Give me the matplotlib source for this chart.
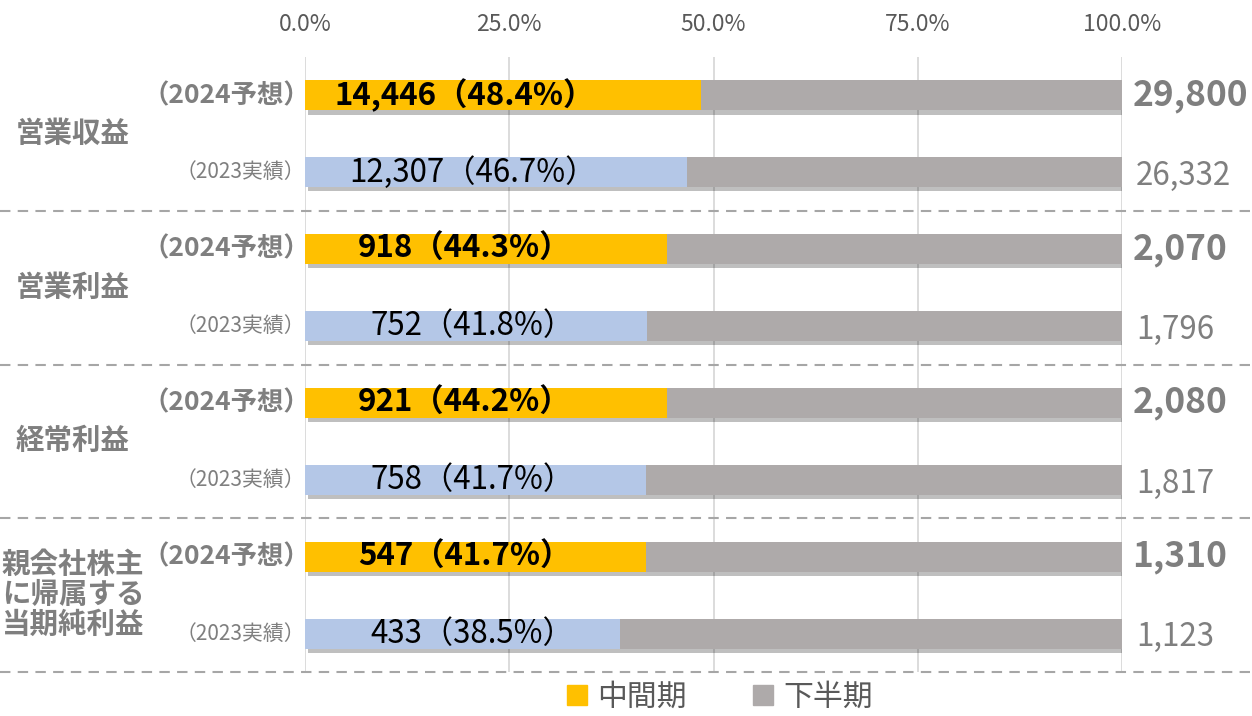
import matplotlib
matplotlib.use("Agg")
import matplotlib.pyplot as plt
import matplotlib.patheffects as pe
import matplotlib.transforms as mtransforms
from matplotlib.patches import Patch
from matplotlib.ticker import FuncFormatter

plt.rcParams["font.family"] = ["Noto Sans CJK JP", "DejaVu Sans"]

# データ（百万円）: 上から順に
groups = ["営業収益", "営業利益", "経常利益", "親会社株主\nに帰属する\n当期純利益"]
mid_2024 = [14446, 918, 921, 547]
total_2024 = [29800, 2070, 2080, 1310]
pct_2024 = ["48.4%", "44.3%", "44.2%", "41.7%"]
mid_2023 = [12307, 752, 758, 433]
total_2023 = [26332, 1796, 1817, 1123]
pct_2023 = ["46.7%", "41.8%", "41.7%", "38.5%"]
year_labels = ["（2024予想）", "（2023実績）"]
legend_labels = ["中間期", "下半期"]
xticks = [0, 0.25, 0.5, 0.75, 1.0]

YELLOW = "#FFC000"
BLUE = "#B4C7E7"
GRAY = "#AEAAAA"
TXT = "#7F7F7F"

fig = plt.figure(figsize=(12.52, 7.16), dpi=100)
ax = fig.add_axes([305 / 1252, 1 - 672 / 716, 817 / 1252, 615 / 716])
left_tr = mtransforms.blended_transform_factory(fig.transFigure, ax.transData)

shadow = [pe.SimplePatchShadow(offset=(2, -3), shadow_rgbFace="k", alpha=0.25)]
H = 0.39

for i, g in enumerate(groups):
    y24, y23 = 2 * i, 2 * i + 1
    s24 = mid_2024[i] / total_2024[i]
    s23 = mid_2023[i] / total_2023[i]
    for y, s, c in [(y24, s24, YELLOW), (y23, s23, BLUE)]:
        # 影用の全幅バー
        bg = ax.barh(y, 1, height=H, color=GRAY, zorder=1.5)
        for p in bg:
            p.set_path_effects(shadow)
        ax.barh(y, s, height=H, color=c, zorder=3)
        ax.barh(y, 1 - s, left=s, height=H, color=GRAY, zorder=2)

    ax.text(0.195, y24, f"{mid_2024[i]:,}（{pct_2024[i]}）", ha="center", va="center",
            fontsize=22.5, fontweight="bold", color="black", zorder=5)
    ax.text(0.205, y23, f"{mid_2023[i]:,}（{pct_2023[i]}）", ha="center", va="center",
            fontsize=22.5, color="black", zorder=5)

    ax.text(1.013, y24, f"{total_2024[i]:,}", ha="left", va="center",
            fontsize=25.5, fontweight="bold", color=TXT, clip_on=False)
    ax.text(1.017, y23 + 0.05, f"{total_2023[i]:,}", ha="left", va="center",
            fontsize=22.5, color=TXT, clip_on=False)

    ax.text(0.006, y24, year_labels[0], ha="right", va="center",
            fontsize=19, fontweight="bold", color=TXT, clip_on=False)
    ax.text(0.0, y23, year_labels[1], ha="right", va="center",
            fontsize=15, color=TXT, clip_on=False)

    ax.text(73 / 1252, y24 + 0.5, g, transform=left_tr, ha="center", va="center",
            fontsize=20.5, fontweight="bold", color=TXT, linespacing=1.1)

    ax.axhline(y23 + 0.5, xmin=-305 / 817, xmax=947 / 817, color="#A6A6A6", lw=1.5,
               ls=(0, (5, 3.5)), clip_on=False, zorder=1)

ax.set_xlim(0, 1)
ax.set_ylim(7.5, -0.5)
ax.set_xticks(xticks)
ax.xaxis.set_major_formatter(FuncFormatter(lambda v, _: f"{v * 100:.1f}%"))
ax.xaxis.tick_top()
ax.tick_params(axis="x", length=0, pad=15, labelsize=16.5, labelcolor="#595959")
ax.set_yticks([])
ax.grid(axis="x", color="#D9D9D9", lw=1.3, zorder=0)
ax.set_axisbelow(True)
for sp in ax.spines.values():
    sp.set_visible(False)

handles = [Patch(color=YELLOW), Patch(color=GRAY)]
fig.legend(handles, legend_labels, loc="center", bbox_to_anchor=(720 / 1252, 19 / 716),
           ncol=2, frameon=False, fontsize=21.5, handlelength=0.68, handleheight=0.68,
           handletextpad=0.35, columnspacing=2.2, labelcolor="#595959",
           borderpad=0.1)

fig.savefig("out.png", dpi=100)
